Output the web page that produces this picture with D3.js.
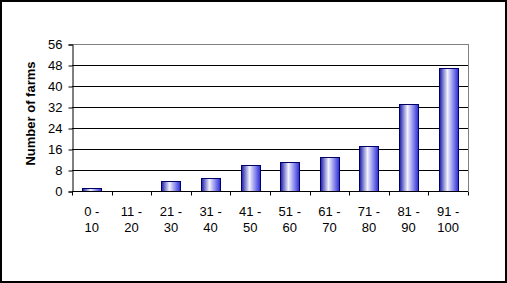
<!DOCTYPE html>
<html>
<head>
<meta charset="utf-8">
<script src="https://cdn.jsdelivr.net/npm/d3@7.9.0/dist/d3.min.js"></script>
<style>
  html, body { margin: 0; padding: 0; background: #fff; }
  svg { display: block; font-family: "Liberation Sans", Arial, sans-serif; }
</style>
</head>
<body>
<svg id="chart" width="507" height="283"></svg>
<script>
// ranges (percent) and farm counts
const rangeLow = ['0', '11', '21', '31', '41', '51', '61', '71', '81', '91'];
const rangeHigh = ['10', '20', '30', '40', '50', '60', '70', '80', '90', '100'];
const farms = [1, 0, 4, 5, 10, 11, 13, 17, 33, 47];
const yTicks = [0, 8, 16, 24, 32, 40, 48, 56];

const W = 507, H = 283;
const m = { left: 72, right: 39, top: 44, bottom: 92 };

const svg = d3.select('#chart');

// outer frame
svg.append('rect')
  .attr('x', 1).attr('y', 1)
  .attr('width', W - 2).attr('height', H - 2)
  .attr('fill', '#fff').attr('stroke', '#000').attr('stroke-width', 2);

const x = d3.scaleBand()
  .domain(d3.range(farms.length))
  .range([m.left, W - m.right]);

const y = d3.scaleLinear()
  .domain([0, 56])
  .range([H - m.bottom, m.top]);

// bar gradient
const defs = svg.append('defs');
const grad = defs.append('linearGradient')
  .attr('id', 'barGrad')
  .attr('x1', '0%').attr('x2', '100%').attr('y1', '0%').attr('y2', '0%');
grad.append('stop').attr('offset', '0%').attr('stop-color', '#1a1aa8');
grad.append('stop').attr('offset', '42%').attr('stop-color', '#f2f2ff');
grad.append('stop').attr('offset', '100%').attr('stop-color', '#2a2ad8');

// plot border (gray top/right)
svg.append('path')
  .attr('d', `M${m.left},${m.top}H${W - m.right}V${H - m.bottom}`)
  .attr('fill', 'none').attr('stroke', '#808080').attr('stroke-width', 1)
  .attr('shape-rendering', 'crispEdges');

// gridlines
svg.append('g')
  .selectAll('line')
  .data(yTicks.filter(d => d > 0 && d < 56))
  .join('line')
  .attr('x1', m.left).attr('x2', W - m.right)
  .attr('y1', d => Math.round(y(d)) + 0.5).attr('y2', d => Math.round(y(d)) + 0.5)
  .attr('stroke', '#000');

// bars
svg.append('g')
  .selectAll('rect')
  .data(farms)
  .join('rect')
  .attr('x', (d, i) => Math.round(x(i) + x.bandwidth() * 0.26) + 0.5)
  .attr('y', d => Math.round(y(d)) + 0.5)
  .attr('width', Math.round(x.bandwidth() * 0.48))
  .attr('height', d => Math.round(y(0)) - Math.round(y(d)))
  .attr('fill', 'url(#barGrad)')
  .attr('stroke', '#000066')
  .attr('stroke-width', 1)
  .style('display', d => d > 0 ? null : 'none');

// y axis
const yAxis = d3.axisLeft(y).tickValues(yTicks).tickSize(4).tickPadding(6);
const gy = svg.append('g')
  .attr('transform', `translate(${m.left + 0.5},0.5)`)
  .call(yAxis);
gy.select('.domain').attr('stroke', '#000');
gy.selectAll('text').attr('font-size', 13).attr('fill', '#000')
  .attr('font-family', '"Liberation Sans", Arial, sans-serif');

// x axis line and ticks at category boundaries
const y0 = Math.round(y(0)) + 0.5;
svg.append('line')
  .attr('x1', m.left).attr('x2', W - m.right)
  .attr('y1', y0).attr('y2', y0)
  .attr('stroke', '#000');
svg.append('g')
  .selectAll('line')
  .data(d3.range(farms.length + 1))
  .join('line')
  .attr('x1', i => Math.round(m.left + i * x.step()) + 0.5)
  .attr('x2', i => Math.round(m.left + i * x.step()) + 0.5)
  .attr('y1', y0).attr('y2', y0 + 4)
  .attr('stroke', '#000');

// x labels, two lines each
const xl = svg.append('g')
  .attr('font-size', 13)
  .attr('text-anchor', 'middle');
rangeLow.forEach((lo, i) => {
  const cx = x(i) + x.bandwidth() / 2;
  xl.append('text').attr('x', cx).attr('y', 216).text(lo + ' -');
  xl.append('text').attr('x', cx).attr('y', 232).text(rangeHigh[i]);
});

// y title
svg.append('text')
  .attr('transform', `translate(35,${(m.top + H - m.bottom) / 2 - 4}) rotate(-90)`)
  .attr('text-anchor', 'middle')
  .attr('font-size', 13)
  .attr('font-weight', 'bold')
  .text('Number of farms');
</script>
</body>
</html>
